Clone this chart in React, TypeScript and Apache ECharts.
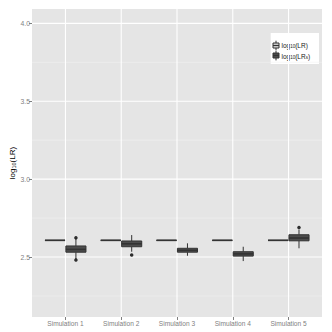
import React, { useEffect, useRef } from 'react';
import * as echarts from 'echarts';

const categories = ['Simulation 1', 'Simulation 2', 'Simulation 3', 'Simulation 4', 'Simulation 5'];
const yMajorTicks = [2.5, 3.0, 3.5, 4.0];
const yMinorTicks = [2.25, 2.75, 3.25, 3.75];
const Y_MIN = 2.115;
const Y_MAX = 4.092;

// log10(LR)
const lrLow = [2.607, 2.607, 2.607, 2.607, 2.607];
const lrQ1 = [2.607, 2.607, 2.607, 2.607, 2.607];
const lrMedian = [2.607, 2.607, 2.607, 2.607, 2.607];
const lrQ3 = [2.607, 2.607, 2.607, 2.607, 2.607];
const lrHigh = [2.607, 2.607, 2.607, 2.607, 2.607];

// log10(LR_s)
const lrsLow = [2.487, 2.534, 2.508, 2.474, 2.556];
const lrsQ1 = [2.531, 2.566, 2.531, 2.506, 2.604];
const lrsMedian = [2.549, 2.585, 2.543, 2.52, 2.622];
const lrsQ3 = [2.571, 2.603, 2.556, 2.534, 2.643];
const lrsHigh = [2.618, 2.641, 2.588, 2.566, 2.676];
// [category index, value]
const lrsOutliers = [
  [0, 2.624],
  [0, 2.481],
  [1, 2.513],
  [4, 2.69],
];

const FONT = "'Liberation Sans', Arial, sans-serif";
const DODGE = 0.1875;
const HALF = 0.18;

function boxSeries(
  name: string,
  low: number[],
  q1: number[],
  med: number[],
  q3: number[],
  high: number[],
  offset: number,
  fill: string
) {
  return {
    type: 'custom',
    name,
    z: 3,
    data: categories.map((c, i) => [i + 1, low[i], q1[i], med[i], q3[i], high[i]]),
    encode: { x: 0, y: [1, 2, 3, 4, 5] },
    renderItem: (params: any, api: any) => {
      const xc = api.value(0) + offset;
      const [cx, yLow] = api.coord([xc, api.value(1)]);
      const yQ1 = api.coord([xc, api.value(2)])[1];
      const yMed = api.coord([xc, api.value(3)])[1];
      const yQ3 = api.coord([xc, api.value(4)])[1];
      const yHigh = api.coord([xc, api.value(5)])[1];
      const xl = api.coord([xc - HALF, api.value(3)])[0];
      const xr = api.coord([xc + HALF, api.value(3)])[0];
      const stroke = '#333333';
      return {
        type: 'group',
        children: [
          { type: 'line', shape: { x1: cx, y1: yHigh, x2: cx, y2: yQ3 }, style: { stroke, lineWidth: 1 } },
          { type: 'line', shape: { x1: cx, y1: yQ1, x2: cx, y2: yLow }, style: { stroke, lineWidth: 1 } },
          {
            type: 'rect',
            shape: { x: xl, y: yQ3, width: xr - xl, height: yQ1 - yQ3 },
            style: { fill, stroke, lineWidth: 1 },
          },
          { type: 'line', shape: { x1: xl, y1: yMed, x2: xr, y2: yMed }, style: { stroke, lineWidth: 1.6 } },
        ],
      };
    },
  };
}

function gridSeries(data: number[][], vertical: boolean, color: string, width: number) {
  return {
    type: 'custom',
    z: 1,
    silent: true,
    data,
    encode: { x: 0, y: 1 },
    renderItem: (params: any, api: any) => {
      const cs = params.coordSys;
      const p = api.coord([api.value(0), api.value(1)]);
      const shape = vertical
        ? { x1: p[0], y1: cs.y, x2: p[0], y2: cs.y + cs.height }
        : { x1: cs.x, y1: p[1], x2: cs.x + cs.width, y2: p[1] };
      return { type: 'line', shape, style: { stroke: color, lineWidth: width } };
    },
  };
}

export default function App() {
  const ref = useRef<HTMLDivElement>(null);
  useEffect(() => {
    if (!ref.current) return;
    const chart = echarts.init(ref.current, undefined, { renderer: 'svg' });
    const tickIdx = categories.map((c, i) => i + 1);
    const rich = {
      m: { fontSize: 6.5, fill: '#1a1a1a', fontFamily: FONT },
      s: { fontSize: 4.5, fill: '#1a1a1a', fontFamily: FONT, verticalAlign: 'bottom' },
    };
    chart.setOption({
      animation: false,
      grid: {
        left: 32,
        right: 10,
        top: 9,
        bottom: 15,
        show: true,
        backgroundColor: '#e5e5e5',
        borderWidth: 0,
      },
      xAxis: {
        type: 'value',
        min: 0.4,
        max: 5.6,
        axisLine: { show: false },
        splitLine: { show: false },
        axisTick: {
          show: true,
          customValues: tickIdx,
          length: 3,
          lineStyle: { color: '#7f7f7f', width: 1 },
        },
        axisLabel: {
          show: true,
          customValues: tickIdx,
          formatter: (v: number) => categories[Math.round(v) - 1] ?? '',
          color: '#7f7f7f',
          fontSize: 6.6,
          fontFamily: FONT,
          margin: 3,
        },
      },
      yAxis: {
        type: 'value',
        min: Y_MIN,
        max: Y_MAX,
        axisLine: { show: false },
        splitLine: { show: false },
        axisTick: {
          show: true,
          customValues: yMajorTicks,
          length: 3,
          lineStyle: { color: '#7f7f7f', width: 1 },
        },
        axisLabel: {
          show: true,
          customValues: yMajorTicks,
          formatter: (v: number) => v.toFixed(1),
          color: '#7f7f7f',
          fontSize: 6.8,
          fontFamily: FONT,
          margin: 2,
        },
      },
      series: [
        gridSeries(yMinorTicks.map((v) => [1, v]), false, '#f2f2f2', 0.6),
        gridSeries(yMajorTicks.map((v) => [1, v]), false, '#ffffff', 1.1),
        gridSeries(tickIdx.map((v) => [v, Y_MIN]), true, '#ffffff', 1.1),
        boxSeries('log10(LR)', lrLow, lrQ1, lrMedian, lrQ3, lrHigh, -DODGE, '#d9d9d9'),
        boxSeries('log10(LRs)', lrsLow, lrsQ1, lrsMedian, lrsQ3, lrsHigh, DODGE, '#4d4d4d'),
        {
          type: 'scatter',
          z: 4,
          symbolSize: 3.5,
          itemStyle: { color: '#000000' },
          data: lrsOutliers.map(([i, v]) => [i + 1 + DODGE, v]),
        },
      ],
      graphic: [
        {
          type: 'text',
          x: 12.5,
          y: 163,
          rotation: Math.PI / 2,
          style: {
            text: '{m|log}{s|10}{m|(LR)}',
            rich: {
              m: { fontSize: 8, fill: '#000000', fontFamily: FONT },
              s: { fontSize: 5.5, fill: '#000000', fontFamily: FONT, verticalAlign: 'bottom' },
            },
            align: 'center',
            verticalAlign: 'middle',
          },
        },
        {
          type: 'group',
          children: [
            { type: 'rect', shape: { x: 270.7, y: 33, width: 48.3, height: 31 }, style: { fill: '#ffffff' } },
            // key 1
            { type: 'line', shape: { x1: 276, y1: 40.7, x2: 276, y2: 50.3 }, style: { stroke: '#333333', lineWidth: 1 } },
            { type: 'rect', shape: { x: 273, y: 43, width: 6, height: 5 }, style: { fill: '#d9d9d9', stroke: '#333333', lineWidth: 1 } },
            { type: 'line', shape: { x1: 273, y1: 45.5, x2: 279, y2: 45.5 }, style: { stroke: '#333333', lineWidth: 1.2 } },
            // key 2
            { type: 'line', shape: { x1: 276, y1: 50.8, x2: 276, y2: 60.4 }, style: { stroke: '#333333', lineWidth: 1 } },
            { type: 'rect', shape: { x: 273, y: 53, width: 6, height: 5 }, style: { fill: '#4d4d4d', stroke: '#333333', lineWidth: 1 } },
            { type: 'line', shape: { x1: 273, y1: 55.5, x2: 279, y2: 55.5 }, style: { stroke: '#333333', lineWidth: 1.2 } },
            {
              type: 'text',
              x: 281.5,
              y: 45.3,
              style: { text: '{m|log}{s|10}{m|(LR)}', rich, align: 'left', verticalAlign: 'middle' },
            },
            {
              type: 'text',
              x: 281.5,
              y: 56,
              style: { text: '{m|log}{s|10}{m|(LR}{s|s}{m|)}', rich, align: 'left', verticalAlign: 'middle' },
            },
          ],
        },
      ],
    });
    return () => chart.dispose();
  }, []);
  return <div ref={ref} style={{ width: 332, height: 332, position: 'absolute', left: 0, top: 0 }} />;
}
